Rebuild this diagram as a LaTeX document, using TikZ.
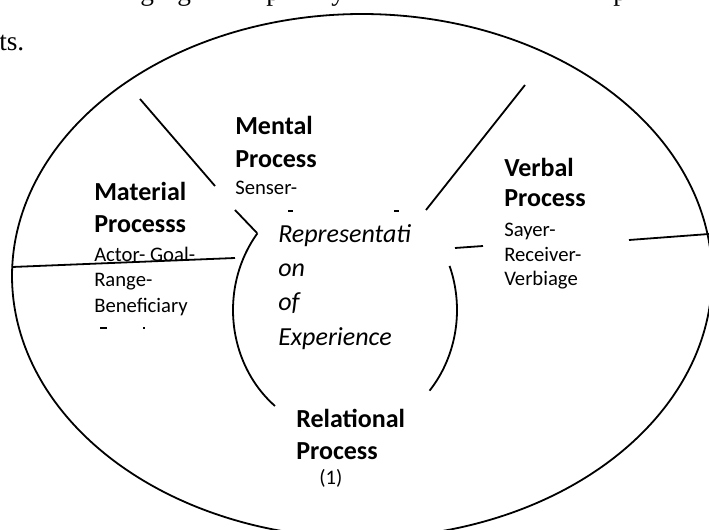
\documentclass[tikz,border=0pt]{standalone}
\usepackage{fontspec}
\setmainfont{Carlito}
\newfontfamily\serifbody{Liberation Serif}
\begin{document}
\begin{tikzpicture}[x=0.75pt,y=-0.75pt]
\tikzset{
  boldlbl/.style={anchor=base west, inner sep=0pt, font=\fontsize{19.5pt}{23pt}\selectfont\bfseries},
  smalllbl/.style={anchor=base west, inner sep=0pt, font=\fontsize{15.5pt}{18pt}\selectfont},
  itallbl/.style={anchor=base west, inner sep=0pt, font=\fontsize{19.5pt}{23pt}\selectfont\itshape},
  bodytxt/.style={anchor=base west, inner sep=0pt, font=\serifbody\fontsize{20.5pt}{24pt}\selectfont},
  stroke/.style={line width=1.35pt, draw=black},
  frag/.style={line width=1pt, draw=black}
}
\clip (0,0) rectangle (709,530);
% body text fragments
\node[bodytxt] (top1) at (140,1) {g};
\node[bodytxt] (top2) at (177,1) {g};
\node[bodytxt] (top3) at (266,1) {p};
\node[bodytxt] (top4) at (331,1) {y};
\node[bodytxt] (top5) at (613,1) {p};
\node[bodytxt] (ts) at (-1,51) {ts.};
% outer ellipse
\draw[stroke] plot[domain=0:360, samples=240, smooth] ({362+350*cos(\x)},{276+262*sin(\x)}) -- cycle;
% inner circle arcs
\draw[stroke] plot[domain=128.7:218.6, samples=60, smooth] ({345+112*cos(\x)},{310+123*sin(\x)});
\draw[stroke] plot[domain=-21:41, samples=40, smooth] ({345+112*cos(\x)},{310+123*sin(\x)});
% spokes
\coordinate (s1a) at (140,99);  \coordinate (s1b) at (215,186);
\coordinate (s1c) at (235,210); \coordinate (s1d) at (257,233);
\coordinate (s2a) at (525,85);  \coordinate (s2b) at (426,210);
\coordinate (s3a) at (12,267);  \coordinate (s3b) at (235,258);
\coordinate (s4a) at (455,248); \coordinate (s4b) at (483,246);
\coordinate (s4c) at (629,240); \coordinate (s4d) at (709,234);
\draw[stroke] (s1a) -- (s1b);
\draw[stroke] (s1c) -- (s1d);
\draw[stroke] (s2a) -- (s2b);
\draw[stroke] (s3a) -- (s3b);
\draw[stroke] (s4a) -- (s4b);
\draw[stroke] (s4c) -- (s4d);
% clipped text marks
\draw[frag] (288,211) -- (293,211);
\draw[frag] (394,211) -- (399,211);
\draw[frag] (100,328) -- (107,328);
\draw[frag] (143,328) -- (145,328);
% Mental
\node[boldlbl] (m1) at (235,135) {Mental};
\node[boldlbl] (m2) at (235,168) {Process};
\node[smalllbl] (m3) at (235,195) {Senser-};
% Material
\node[boldlbl] (a1) at (94,201) {Material};
\node[boldlbl] (a2) at (94,233) {Processs};
\node[smalllbl] (a3) at (94,262) {Actor- Goal-};
\node[smalllbl] (a4) at (94,287) {Range-};
\node[smalllbl] (a5) at (94,313) {Beneficiary};
% Verbal
\node[boldlbl] (v1) at (504,177) {Verbal};
\node[boldlbl] (v2) at (504,207) {Process};
\node[smalllbl] (v3) at (504,237) {Sayer-};
\node[smalllbl] (v4) at (504,262) {Receiver-};
\node[smalllbl] (v5) at (504,286) {Verbiage};
% Centre
\node[itallbl] (c1) at (278,243) {Representati};
\node[itallbl] (c2) at (278,277) {on};
\node[itallbl] (c3) at (278,311) {of};
\node[itallbl] (c4) at (278,345) {Experience};
% Relational
\node[boldlbl] (r1) at (296,427) {Relational};
\node[boldlbl] (r2) at (296,459) {Process};
\node[smalllbl] (r3) at (319,484) {(1)};
\end{tikzpicture}
\end{document}
